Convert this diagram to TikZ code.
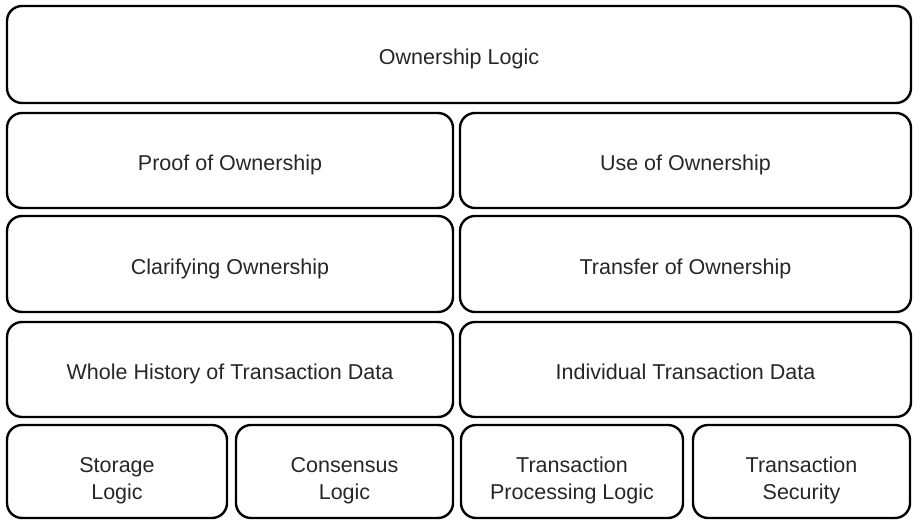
\documentclass[tikz,border=0pt]{standalone}
\usepackage{fontspec}
\setmainfont{Liberation Sans}
\begin{document}
\begin{tikzpicture}[x=1pt,y=-1pt,
  blk/.style={draw=black, line width=2.4pt, rounded corners=15pt, inner sep=0pt, outer sep=0pt},
  lbl/.style={font=\fontsize{21.5}{27}\selectfont, text=black!85, align=center, inner sep=0pt}]
\useasboundingbox (0,0) rectangle (914,521);
\newcommand{\blkbox}[7]{% name, x1, y1, x2, y2, text, shift
  \node[blk, minimum width={#4-#2}, minimum height={#5-#3}] (#1) at ({(#2+#4)/2},{(#3+#5)/2}) {};
  \node[lbl] (#1-t) at ([yshift=-#7]#1.center) {#6};}
\blkbox{own}{7}{6}{911}{103}{Ownership Logic\strut}{5pt}
\blkbox{proof}{7}{113}{453}{208}{Proof of Ownership\strut}{5pt}
\blkbox{use}{460}{113}{911}{208}{Use of Ownership\strut}{5pt}
\blkbox{clar}{7}{216}{453}{312}{Clarifying Ownership\strut}{5pt}
\blkbox{trans}{460}{216}{911}{312}{Transfer of Ownership\strut}{5pt}
\blkbox{whole}{7}{322}{453}{417}{Whole History of Transaction Data\strut}{5pt}
\blkbox{indiv}{460}{322}{911}{417}{Individual Transaction Data\strut}{5pt}
\blkbox{stor}{7}{425}{227}{518}{Storage\strut\\Logic\strut}{9pt}
\blkbox{cons}{236}{425}{453}{518}{Consensus\strut\\Logic\strut}{9pt}
\blkbox{proc}{461}{425}{683}{518}{Transaction\strut\\Processing Logic\strut}{9pt}
\blkbox{sec}{693}{425}{910}{518}{Transaction\strut\\Security\strut}{9pt}
\end{tikzpicture}
\end{document}
